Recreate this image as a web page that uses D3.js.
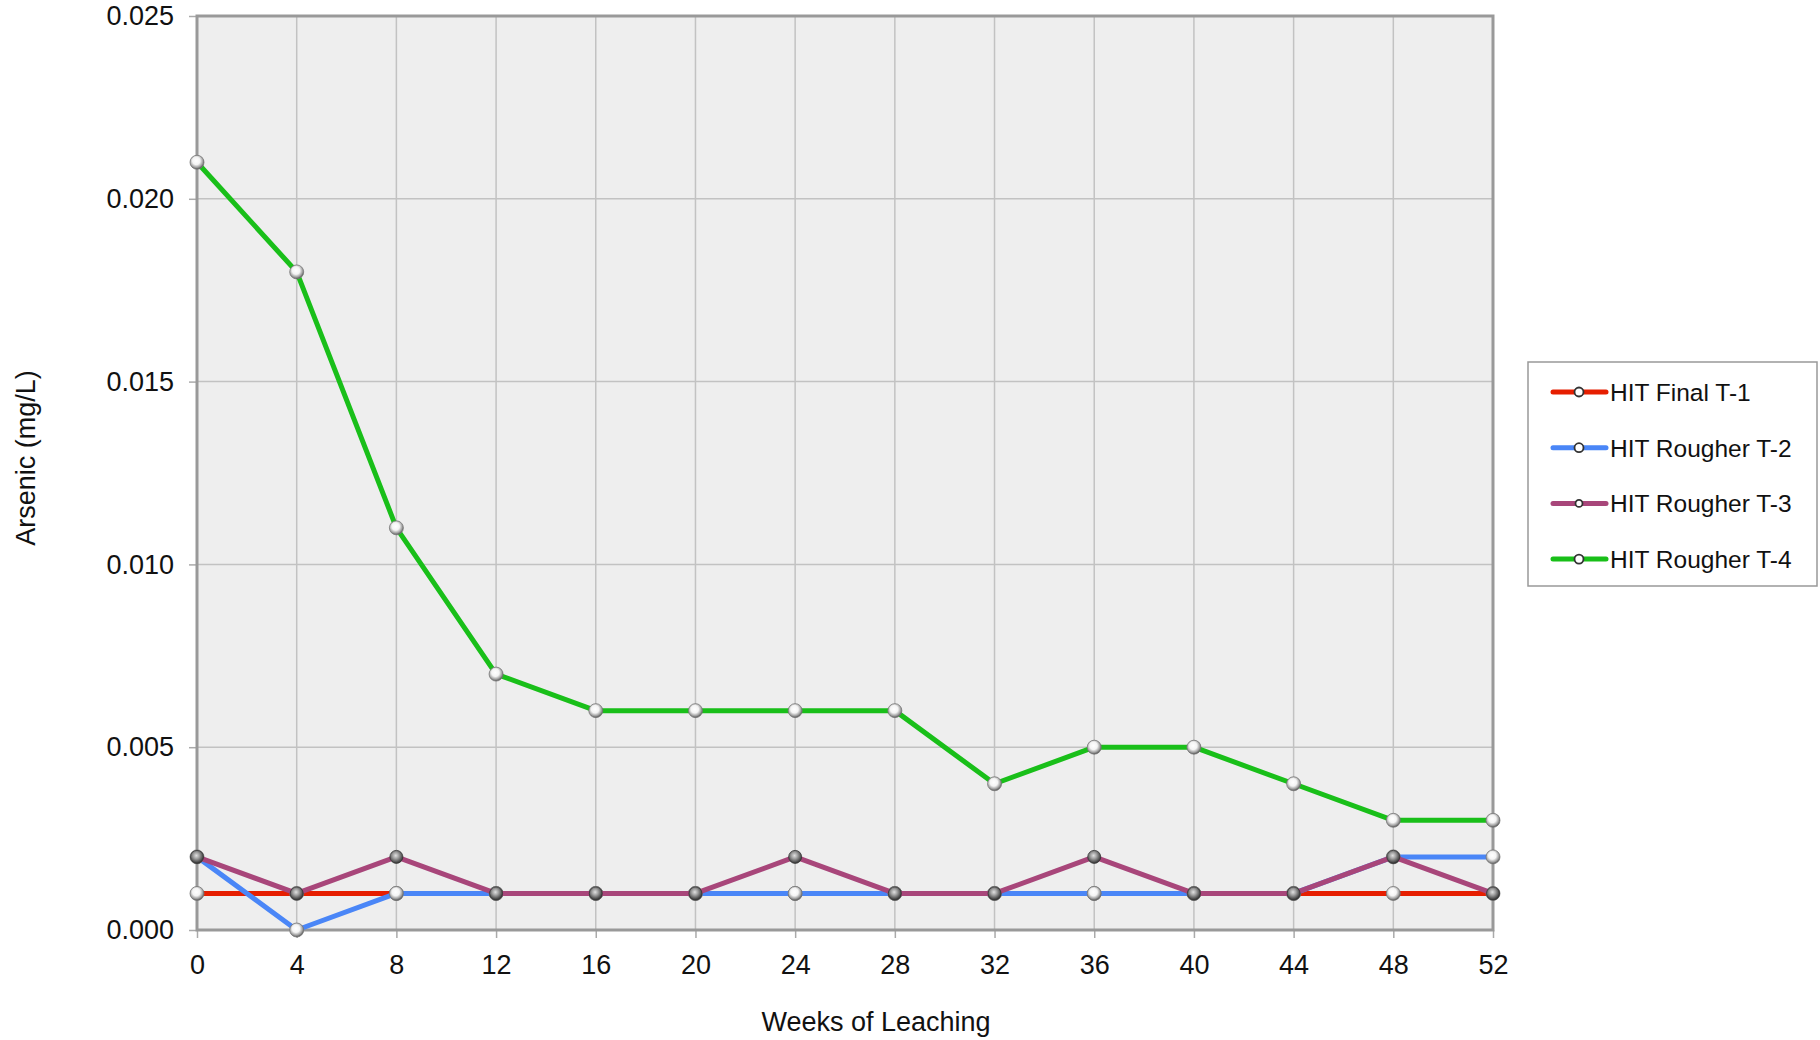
<!DOCTYPE html>
<html>
<head>
<meta charset="utf-8">
<script src="https://cdn.jsdelivr.net/npm/d3@7"></script>
<style>
  body { margin: 0; background: #fff; }
  text { font-family: "Liberation Sans", Arial, sans-serif; fill: #111; }
</style>
</head>
<body>
<div id="chart-area"></div>
<script>
const weeks = [0, 4, 8, 12, 16, 20, 24, 28, 32, 36, 40, 44, 48, 52];
const seriesNames = ["HIT Final T-1", "HIT Rougher T-2", "HIT Rougher T-3", "HIT Rougher T-4"];
const t1 = [0.001, 0.001, 0.001, 0.001, 0.001, 0.001, 0.001, 0.001, 0.001, 0.001, 0.001, 0.001, 0.001, 0.001];
const t2 = [0.002, 0.000, 0.001, 0.001, 0.001, 0.001, 0.001, 0.001, 0.001, 0.001, 0.001, 0.001, 0.002, 0.002];
const t3 = [0.002, 0.001, 0.002, 0.001, 0.001, 0.001, 0.002, 0.001, 0.001, 0.002, 0.001, 0.001, 0.002, 0.001];
const t4 = [0.021, 0.018, 0.011, 0.007, 0.006, 0.006, 0.006, 0.006, 0.004, 0.005, 0.005, 0.004, 0.003, 0.003];
const yTicks = [0, 0.005, 0.010, 0.015, 0.020, 0.025];

const colors = ["#e61e00", "#4a86f7", "#a8467a", "#19bf19"];
const allSeries = [t1, t2, t3, t4];

const margin = { top: 16, right: 327, bottom: 110, left: 197 };
const W = 1820, H = 1040;
const width = W - margin.left - margin.right;
const height = H - margin.top - margin.bottom;

const svg = d3.select('#chart-area')
    .append('svg')
    .attr('width', W)
    .attr('height', H);

const defs = svg.append('defs');
const light = defs.append('radialGradient').attr('id', 'ballLight')
    .attr('cx', '45%').attr('cy', '40%').attr('r', '60%');
light.append('stop').attr('offset', '0%').attr('stop-color', '#ffffff');
light.append('stop').attr('offset', '45%').attr('stop-color', '#f4f4f4');
light.append('stop').attr('offset', '80%').attr('stop-color', '#9a9a9a');
light.append('stop').attr('offset', '100%').attr('stop-color', '#505050');
const dark = defs.append('radialGradient').attr('id', 'ballDark')
    .attr('cx', '45%').attr('cy', '40%').attr('r', '60%');
dark.append('stop').attr('offset', '0%').attr('stop-color', '#e0e0e0');
dark.append('stop').attr('offset', '40%').attr('stop-color', '#a0a0a0');
dark.append('stop').attr('offset', '80%').attr('stop-color', '#555');
dark.append('stop').attr('offset', '100%').attr('stop-color', '#333');

const g = svg.append('g').attr('transform', `translate(${margin.left}, ${margin.top})`);

const x = d3.scaleLinear().domain([0, 52]).range([0, width]);
const y = d3.scaleLinear().domain([0, 0.025]).range([height, 0]);

g.append('rect').attr('width', width).attr('height', height).attr('fill', '#eeeeee');

// grid
g.selectAll('.vgrid').data(weeks).enter().append('line')
    .attr('x1', d => x(d)).attr('x2', d => x(d))
    .attr('y1', 0).attr('y2', height)
    .attr('stroke', '#c2c2c2').attr('stroke-width', 1.5);
g.selectAll('.hgrid').data(yTicks).enter().append('line')
    .attr('x1', 0).attr('x2', width)
    .attr('y1', d => y(d)).attr('y2', d => y(d))
    .attr('stroke', '#c2c2c2').attr('stroke-width', 1.5);

// axes
const xAxis = g.append('g').attr('transform', `translate(0, ${height})`)
    .call(d3.axisBottom(x).tickValues(weeks).tickSize(8).tickPadding(17).tickFormat(d3.format('d')));
const yAxis = g.append('g')
    .call(d3.axisLeft(y).tickValues(yTicks).tickSize(8).tickPadding(15).tickFormat(d3.format('.3f')));
[xAxis, yAxis].forEach(a => {
    a.select('.domain').remove();
    a.selectAll('line').attr('stroke', '#aaa').attr('stroke-width', 1.5);
    a.selectAll('text').style('font-size', '27px').attr('fill', '#111');
});

// frame
g.append('rect').attr('width', width).attr('height', height)
    .attr('fill', 'none').attr('stroke', '#999').attr('stroke-width', 3);

const line = d3.line().x((d, i) => x(weeks[i])).y(d => y(d));

allSeries.forEach((s, k) => {
    g.append('path').datum(s)
        .attr('d', line)
        .attr('fill', 'none')
        .attr('stroke', colors[k])
        .attr('stroke-width', 5)
        .attr('stroke-linejoin', 'round');
    g.selectAll('.m' + k).data(s).enter().append('circle')
        .attr('cx', (d, i) => x(weeks[i]))
        .attr('cy', d => y(d))
        .attr('r', k === 2 ? 6.5 : 7)
        .attr('fill', k === 2 ? 'url(#ballDark)' : 'url(#ballLight)')
        .attr('stroke', k === 2 ? '#333' : '#777')
        .attr('stroke-width', 0.8);
});

// axis titles
svg.append('text')
    .attr('x', 876).attr('y', 1031)
    .attr('text-anchor', 'middle')
    .style('font-size', '27px')
    .text('Weeks of Leaching');
svg.append('text')
    .attr('transform', 'translate(35, 458) rotate(-90)')
    .attr('text-anchor', 'middle')
    .style('font-size', '27px')
    .text('Arsenic (mg/L)');

// legend
const legend = svg.append('g');
legend.append('rect')
    .attr('x', 1528).attr('y', 362).attr('width', 289).attr('height', 224)
    .attr('fill', '#fff').attr('stroke', '#999').attr('stroke-width', 1.5);
seriesNames.forEach((name, k) => {
    const ly = 392 + k * 55.7;
    legend.append('line')
        .attr('x1', 1553).attr('x2', 1606).attr('y1', ly).attr('y2', ly)
        .attr('stroke', colors[k]).attr('stroke-width', 5).attr('stroke-linecap', 'round');
    legend.append('circle')
        .attr('cx', 1579).attr('cy', ly).attr('r', k === 2 ? 3.5 : 4.5)
        .attr('fill', '#fff').attr('stroke', '#333').attr('stroke-width', 1.8);
    legend.append('text')
        .attr('x', 1610).attr('y', ly + 9)
        .style('font-size', '24.5px')
        .text(name);
});
</script>
</body>
</html>
